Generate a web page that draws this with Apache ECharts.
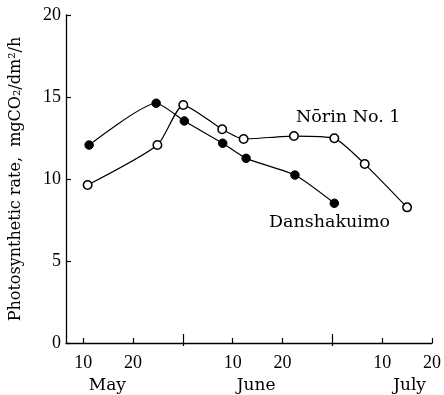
<!DOCTYPE html>
<html><head><meta charset="utf-8">
<script src="https://cdn.jsdelivr.net/npm/echarts@6/dist/echarts.min.js"></script>
<style>html,body{margin:0;padding:0;background:#fff}#c{width:444px;height:395px}</style>
</head><body><div id="c"></div>
<script>
// x coordinate: 10-day periods, May 10 = 10, May 20 = 20, Jun 1 = 30, Jun 10 = 40, ...
const danX = [11.2, 24.65, 30.3, 38.0, 42.7, 52.5, 60.4];
const danY = [12.07, 14.62, 13.54, 12.18, 11.26, 10.24, 8.52];
const norX = [10.9, 24.9, 30.1, 37.9, 42.2, 52.3, 60.4, 66.5, 75.0];
const norY = [9.63, 12.07, 14.51, 13.03, 12.44, 12.62, 12.48, 10.91, 8.27];
const dayTicks = [10, 20, 40, 50, 70, 80];
const dayTickLabels = ['10', '20', '10', '20', '10', '20'];
const monthTicks = [30, 60];
const monthNames = ['May', 'June', 'July'];
const monthLabelPos = [14.85, 44.7, 75.5];
const seriesNames = ['Nōrin No. 1', 'Danshakuimo'];
const yName = 'Photosynthetic rate,  mgCO₂/dm²/h';

const FONT = '"Liberation Serif", "DejaVu Serif", serif';
const WFONT = '"DejaVu Serif", serif';
const chart = echarts.init(document.getElementById('c'), null, {renderer: 'canvas'});
const pts = (xs, ys) => xs.map((x, i) => [x, ys[i]]);

chart.setOption({
  animation: false,
  backgroundColor: '#fff',
  grid: {left: 65, right: 10, top: 15, bottom: 52, containLabel: false},
  xAxis: [{
    type: 'value', min: 6.56, max: 80,
    axisLine: {show: true, lineStyle: {color: '#000', width: 1.3}},
    splitLine: {show: false},
    axisTick: {show: true, inside: true, length: 5, customValues: dayTicks, lineStyle: {color: '#000', width: 1.2}},
    axisLabel: {
      show: true, customValues: dayTicks, margin: 11,
      formatter: v => dayTickLabels[dayTicks.indexOf(v)] || '',
      color: '#000', fontFamily: FONT, fontSize: 18
    }
  }, {
    type: 'value', min: 6.56, max: 80, position: 'bottom',
    axisLine: {show: false},
    splitLine: {show: false},
    axisTick: {show: true, inside: true, length: 9, customValues: monthTicks, lineStyle: {color: '#000', width: 1.2}},
    axisLabel: {
      show: true, customValues: monthLabelPos, margin: 34,
      formatter: v => monthNames[monthLabelPos.indexOf(v)] || '',
      color: '#000', fontFamily: WFONT, fontSize: 17
    }
  }, {
    type: 'value', min: 6.56, max: 80, position: 'bottom',
    axisLine: {show: false},
    splitLine: {show: false},
    axisTick: {show: true, inside: false, length: 3, customValues: monthTicks, lineStyle: {color: '#000', width: 1.2}},
    axisLabel: {show: false}
  }],
  yAxis: {
    type: 'value', min: 0, max: 20, interval: 5,
    name: yName, nameLocation: 'middle', nameGap: 42, nameRotate: 90,
    nameTextStyle: {color: '#000', fontFamily: WFONT, fontSize: 16},
    axisLine: {show: true, lineStyle: {color: '#000', width: 1.3}},
    splitLine: {show: false},
    axisTick: {show: true, inside: true, length: 5, lineStyle: {color: '#000', width: 1.2}},
    axisLabel: {color: '#000', fontFamily: FONT, fontSize: 18, margin: 5}
  },
  series: [{
    name: seriesNames[0], type: 'line', data: pts(norX, norY), smooth: 0.2,
    symbol: 'circle', symbolSize: 8.5,
    lineStyle: {color: '#000', width: 1.2},
    itemStyle: {color: '#fff', borderColor: '#000', borderWidth: 1.5},
    z: 3
  }, {
    name: seriesNames[1], type: 'line', data: pts(danX, danY), smooth: 0.2,
    symbol: 'circle', symbolSize: 8.5,
    lineStyle: {color: '#000', width: 1.2},
    itemStyle: {color: '#000', borderColor: '#000', borderWidth: 1},
    z: 3
  }],
  graphic: [{
    type: 'text', left: 296, top: 108,
    style: {text: seriesNames[0], fill: '#000', font: '17.5px ' + WFONT}
  }, {
    type: 'text', left: 269, top: 213,
    style: {text: seriesNames[1], fill: '#000', font: '17.5px ' + WFONT}
  }]
});
</script></body></html>
